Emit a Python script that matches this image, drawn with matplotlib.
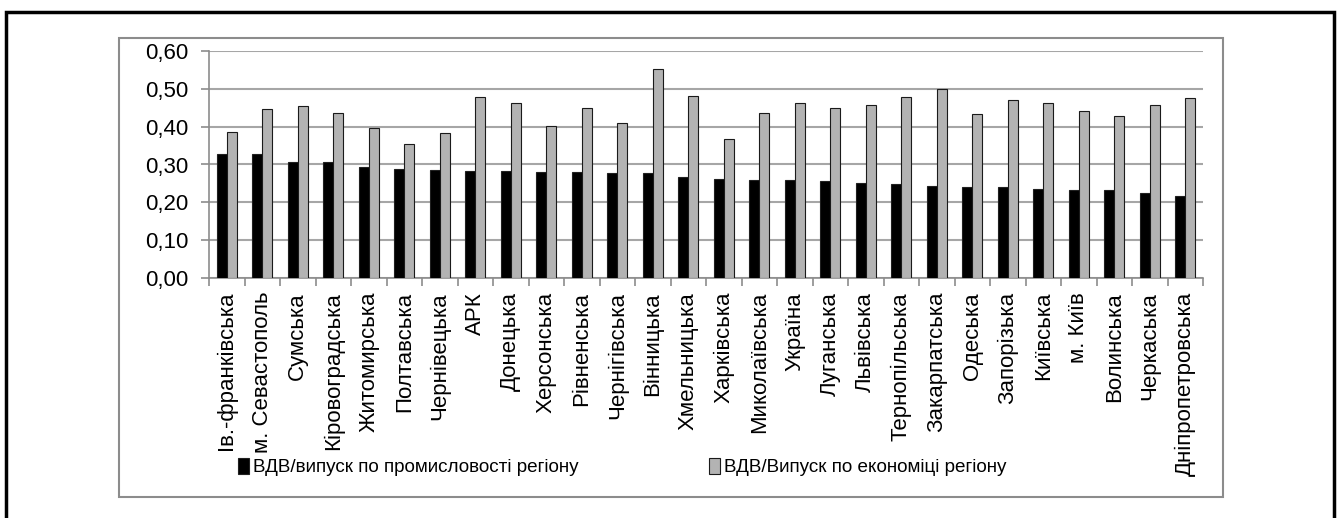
import matplotlib
matplotlib.use('Agg')
import matplotlib.pyplot as plt
import numpy as np
from matplotlib.patches import Rectangle

plt.rcParams['font.family'] = ['Liberation Sans', 'DejaVu Sans']

regions = ['Ів.-франківська', 'м. Севастополь', 'Сумська', 'Кіровоградська',
           'Житомирська', 'Полтавська', 'Чернівецька', 'АРК', 'Донецька',
           'Херсонська', 'Рівненська', 'Чернігівська', 'Вінницька',
           'Хмельницька', 'Харківська', 'Миколаївська', 'Україна', 'Луганська',
           'Львівська', 'Тернопільська', 'Закарпатська', 'Одеська',
           'Запорізька', 'Київська', 'м. Київ', 'Волинська', 'Черкаська',
           'Дніпропетровська']

industry = [0.328, 0.328, 0.307, 0.307, 0.294, 0.287, 0.285, 0.284, 0.284,
            0.281, 0.281, 0.278, 0.278, 0.267, 0.261, 0.258, 0.258, 0.256,
            0.252, 0.249, 0.244, 0.241, 0.241, 0.235, 0.233, 0.233, 0.224,
            0.218]

economy = [0.385, 0.448, 0.454, 0.436, 0.397, 0.353, 0.382, 0.479, 0.462,
           0.402, 0.450, 0.411, 0.552, 0.482, 0.367, 0.436, 0.462, 0.450,
           0.456, 0.479, 0.500, 0.434, 0.471, 0.462, 0.442, 0.428, 0.456,
           0.477]

W, H = 1338, 518
fig = plt.figure(figsize=(W / 100, H / 100), dpi=100)

# outer black frame and inner gray chart border
fig.patches.append(Rectangle((6 / W, -0.05), 1328 / W, 1.05 - 12 / H,
                             transform=fig.transFigure, fill=False,
                             edgecolor='black', linewidth=2.5))
fig.patches.append(Rectangle((119 / W, 1 - 497 / H), 1104 / W, 459 / H,
                             transform=fig.transFigure, fill=False,
                             edgecolor='#8c8c8c', linewidth=1.5))

ax = fig.add_axes([209 / W, 1 - 278 / H, 994 / W, 227 / H])

x = np.arange(len(regions))
bw = 0.28
ax.bar(x - bw / 2, industry, bw, color='black', edgecolor='#202020',
       linewidth=0.8, label='ВДВ/випуск по промисловості регіону', zorder=3)
ax.bar(x + bw / 2, economy, bw, color='#b3b3b3', edgecolor='#1a1a1a',
       linewidth=0.8, label='ВДВ/Випуск по економіці регіону', zorder=3)

ax.set_xlim(-0.5, len(regions) - 0.5)
ax.set_ylim(0, 0.6)
yt = np.arange(0, 0.61, 0.1)
ax.set_yticks(yt)
ax.set_yticklabels([f'{v:.2f}'.replace('.', ',') for v in yt], fontsize=16)
ax.set_xticks(x)
ax.set_xticklabels(regions, rotation=90, fontsize=16)
ax.set_xticks(np.arange(-0.5, len(regions)), minor=True)
ax.tick_params(axis='x', which='major', length=0, pad=10)
ax.tick_params(axis='x', which='minor', length=6, color='#8c8c8c', width=1.2)
ax.tick_params(axis='y', length=6, color='#8c8c8c', width=1.2, pad=9)

ax.yaxis.grid(True, color='#a6a6a6', linewidth=1.5, zorder=0)
ax.set_axisbelow(True)
for s in ['top', 'right']:
    ax.spines[s].set_visible(False)
ax.spines['left'].set_color('#8c8c8c')
ax.spines['bottom'].set_color('#8c8c8c')
ax.spines['left'].set_linewidth(1.2)
ax.spines['bottom'].set_linewidth(1.2)

fig.legend(loc='center left', bbox_to_anchor=(230 / W, 1 - 467 / H), ncol=2,
           frameon=False, fontsize=13.6, handlelength=0.6, handleheight=0.9,
           handletextpad=0.2, columnspacing=6.9, borderaxespad=0)

fig.savefig('out.png', dpi=100)
